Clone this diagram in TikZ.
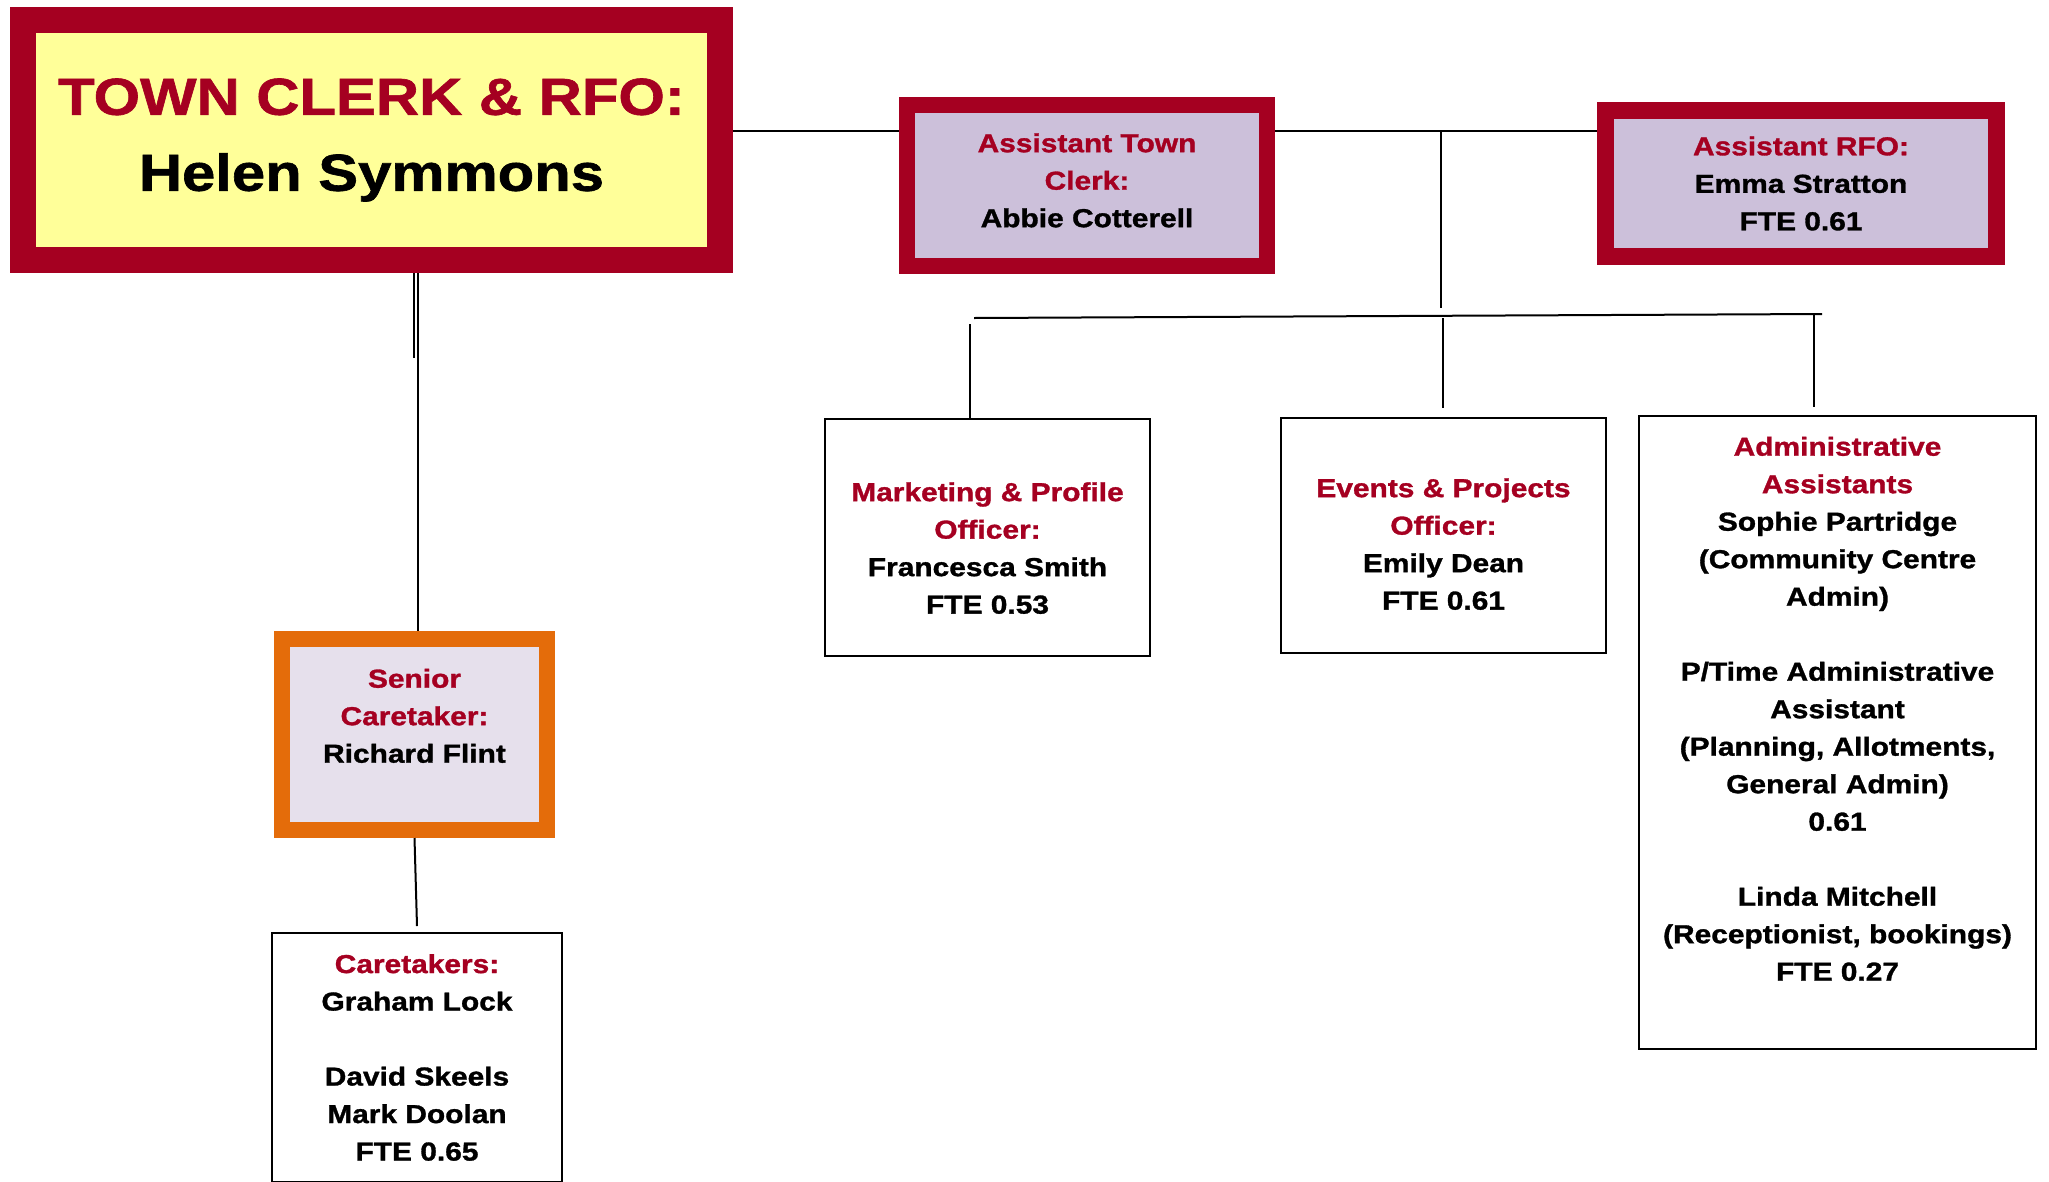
\documentclass[tikz,border=0pt]{standalone}
\usepackage{fontspec}
\usepackage{xcolor}
\usetikzlibrary{positioning}
\usetikzlibrary{calc}
\setmainfont{Liberation Sans}
\newfontfamily\widefont[FakeStretch=1.15,BoldFeatures={FakeBold=1.2}]{Liberation Sans}
\definecolor{clerkred}{HTML}{A50021}
\definecolor{clerkyellow}{HTML}{FFFF99}
\definecolor{deputylilac}{HTML}{CCC0DA}
\definecolor{seniorlilac}{HTML}{E6E0EC}
\definecolor{seniororange}{HTML}{E46C0A}
\newcommand{\role}[1]{\textcolor{clerkred}{#1}}
\tikzset{
  clerkbox/.style={draw=clerkred,line width=26pt,fill=clerkyellow,inner sep=0pt,align=center,
    font=\widefont\bfseries\fontsize{52}{76}\selectfont},
  deputybox/.style={draw=clerkred,line width=16pt,fill=deputylilac,inner sep=0pt,align=center,
    font=\widefont\bfseries\fontsize{26}{37.5}\selectfont},
  seniorbox/.style={draw=seniororange,line width=16pt,fill=seniorlilac,inner sep=0pt,align=center,
    font=\widefont\bfseries\fontsize{26}{37.5}\selectfont},
  staffbox/.style={draw=black,line width=2pt,fill=white,inner sep=0pt,align=center,
    font=\widefont\bfseries\fontsize{26}{37.5}\selectfont},
  link/.style={line width=2pt}
}
\begin{document}
\begin{tikzpicture}[x=1pt,y=-1pt]
            \useasboundingbox[fill=white](0,0)rectangle(2049,1181);

            \node[clerkbox,minimum width=697pt,minimum height=240pt](clerk)at(371.5,140)
                {\role{TOWN CLERK \& RFO:}\\Helen Symmons};
            \node[deputybox,minimum width=360pt,minimum height=161pt](deputy)at(1087,185.5)
                {\role{Assistant Town}\\\role{Clerk:}\\Abbie Cotterell\\[-27pt]~};
            \node[deputybox,line width=17pt,minimum width=391pt,minimum height=146pt](rfo)at(1801,183.5)
                {\role{Assistant RFO:}\\Emma Stratton\\FTE 0.61};

            \node[staffbox,minimum width=325pt,minimum height=237pt](marketing)at(987.5,537.5)
                {\rule{0pt}{40pt}\role{Marketing \& Profile}\\\role{Officer:}\\Francesca Smith\\FTE 0.53};
            \node[staffbox,minimum width=325pt,minimum height=235pt](events)at(1443.5,535.5)
                {\rule{0pt}{36pt}\role{Events \& Projects}\\\role{Officer:}\\Emily Dean\\FTE 0.61};
            \node[staffbox,minimum width=397pt,minimum height=633pt](admin)at(1837.5,732.5)
                {\role{Administrative}\\\role{Assistants}\\Sophie Partridge\\(Community Centre\\Admin)\\~\\
                 P/Time Administrative\\Assistant\\(Planning, Allotments,\\General Admin)\\0.61\\~\\
                 Linda Mitchell\\(Receptionist, bookings)\\FTE 0.27\\[10pt]~};

            \node[seniorbox,minimum width=265pt,minimum height=191pt](senior)at(414.5,734.5)
                {\role{Senior}\\\role{Caretaker:}\\Richard Flint\\~};
            \node[staffbox,minimum width=290pt,minimum height=249pt](crew)at(417,1057.5)
                {\role{Caretakers:}\\Graham Lock\\~\\David Skeels\\Mark Doolan\\FTE 0.65};

            \coordinate(bus)at(0,131);
            \coordinate(split)at(1441,131);
            \coordinate(splitend)at(1441,308);
            \coordinate(barL)at(974,318);
            \coordinate(barR)at(1822,314);
            \coordinate(dropA)at(970,324);
            \coordinate(dropB)at(1443,318);
            \coordinate(dropC)at(1814,314);
            \coordinate(trunk)at(417.5,0);
            \coordinate(stub)at(414,358);

            \draw[link](clerk.east|-bus)--(deputy.west|-bus);
            \draw[link](deputy.east|-bus)--(rfo.west|-bus);
            \draw[link](split)--(splitend);
            \draw[link](barL)--(barR);
            \draw[link](dropA)--(dropA|-marketing.north);
            \draw[link](dropB)--($(dropB|-events.north)+(0,-9)$);
            \draw[link](dropC)--($(dropC|-admin.north)+(0,-8)$);
            \draw[link](clerk.south-|trunk)--(trunk|-senior.north);
            \draw[link](clerk.south-|stub)--(stub);
            \draw[link](senior.south)--($(crew.north)+(0,-6)$);

\end{tikzpicture}
\end{document}
